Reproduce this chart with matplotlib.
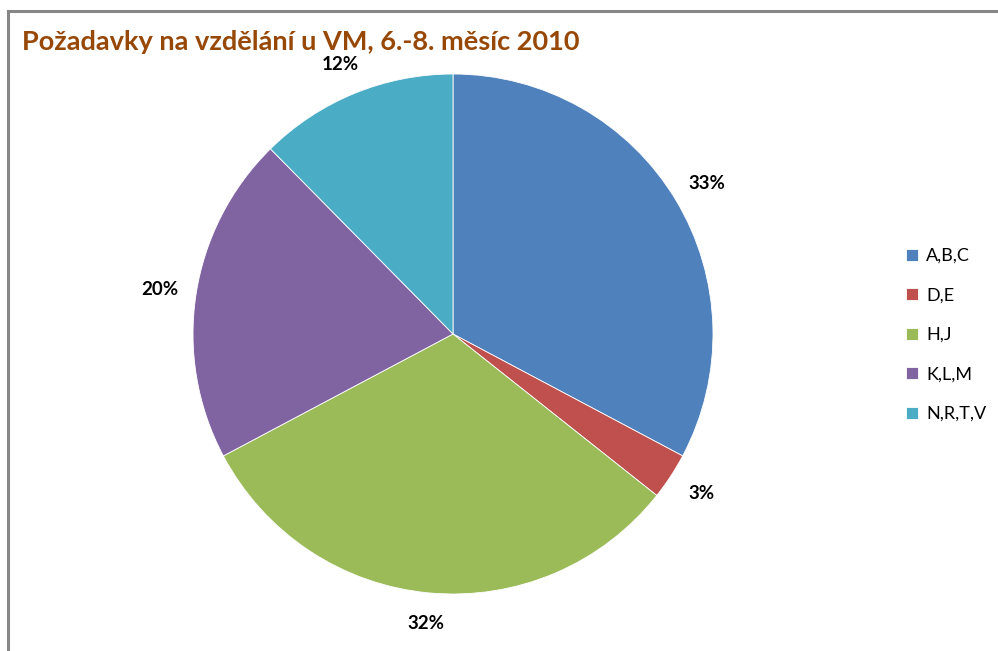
import matplotlib.pyplot as plt
from matplotlib.lines import Line2D
import numpy as np

# data
categories = ["A,B,C", "D,E", "H,J", "K,L,M", "N,R,T,V"]
shares = [32.8, 2.9, 31.6, 20.4, 12.4]
pct_labels = ["33%", "3%", "32%", "20%", "12%"]
colors = ["#4F81BD", "#C0504D", "#9BBB59", "#8064A2", "#4BACC6"]

plt.rcParams['font.family'] = ['Lato', 'DejaVu Sans']

fig = plt.figure(figsize=(9.98, 6.51), dpi=100)

# chart frame (only top and left edge visible in the crop)
fig.add_artist(Line2D([8 / 998, 8 / 998], [0, 1 - 11 / 651], color="#868686", lw=2.2))
fig.add_artist(Line2D([8 / 998, 1.01], [1 - 11 / 651, 1 - 11 / 651], color="#868686", lw=2.2))

# pie axes: center (453, 334), radius 260 px
r = 260
ax = fig.add_axes([(453 - r) / 998, (651 - 334 - r) / 651, 2 * r / 998, 2 * r / 651])
wedges, _ = ax.pie(shares, colors=colors, startangle=90, counterclock=False,
                   radius=1, wedgeprops=dict(edgecolor="white", linewidth=0.6))
ax.set_xlim(-1, 1)
ax.set_ylim(-1, 1)
ax.set_aspect("equal")
ax.axis("off")

# percentage labels outside the slices
for w, lab in zip(wedges, pct_labels):
    mid = np.deg2rad((w.theta1 + w.theta2) / 2)
    ax.text(1.14 * np.cos(mid), 1.12 * np.sin(mid), lab, ha="center", va="center",
            fontsize=13.5, fontweight="bold", color="black", clip_on=False)

fig.text(22 / 998, 1 - 42 / 651, "Požadavky na vzdělání u VM, 6.-8. měsíc 2010",
         fontsize=19.5, fontweight="bold", color="#974806", ha="left", va="center")

fig.legend(wedges, categories, loc="center left", bbox_to_anchor=(897 / 998, 1 - 335 / 651),
           frameon=False, fontsize=13, handlelength=0.65, handleheight=0.65,
           handletextpad=0.45, labelspacing=1.3, borderpad=0)

fig.savefig("out.png", dpi=100)
